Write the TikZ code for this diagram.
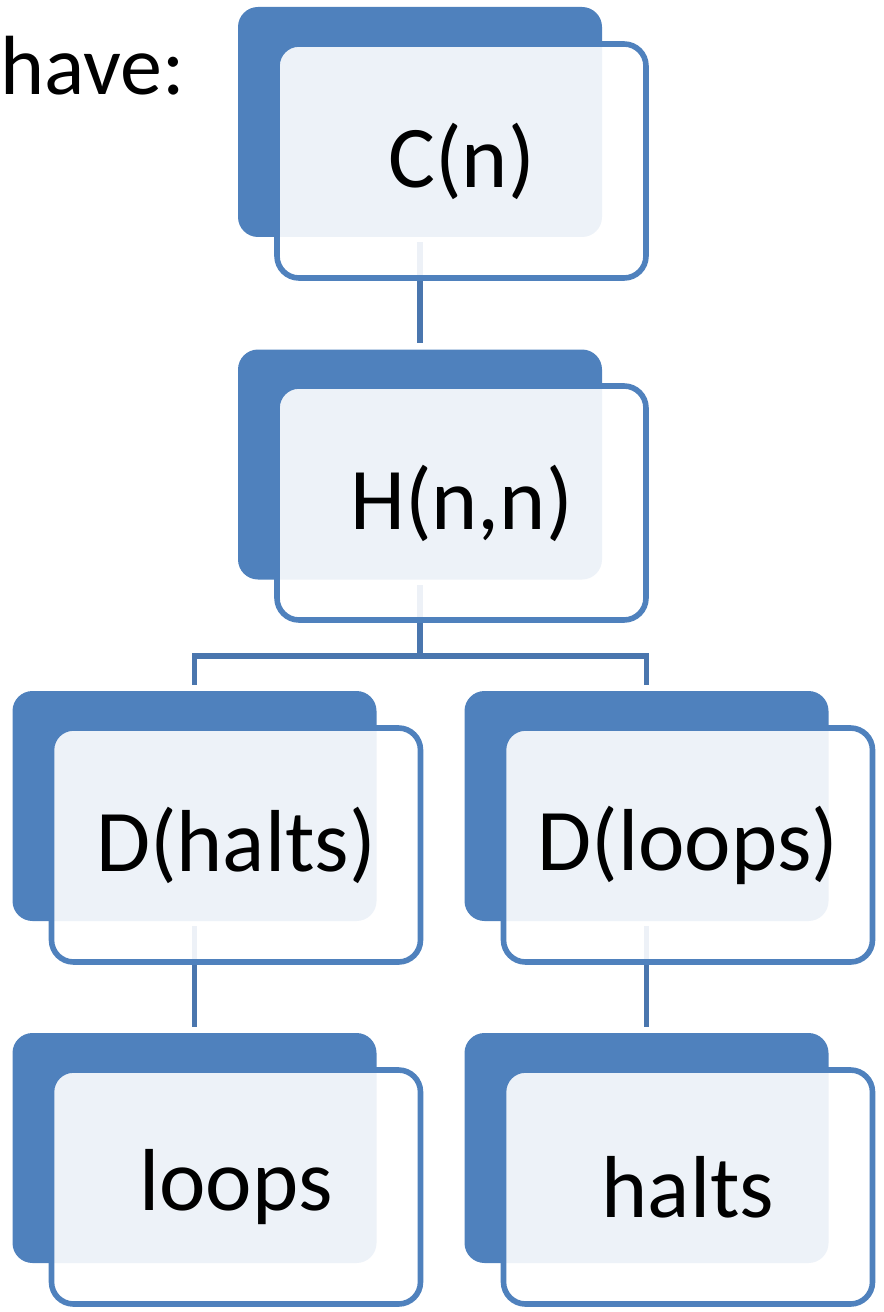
\documentclass[tikz,border=0pt]{standalone}
\usepackage{fontspec}
\setmainfont{Carlito}
\definecolor{boxblue}{HTML}{4F81BD}
\definecolor{linkblue}{HTML}{4A76AE}

\begin{document}
\begin{tikzpicture}[x=0.75pt, y=-0.75pt,
  back/.style={fill=boxblue, rounded corners=15pt, minimum width=273pt, minimum height=172.5pt, inner sep=0pt},
  front/.style={draw=boxblue, line width=4.2pt, fill=white, fill opacity=0.9, text opacity=1, rounded corners=16.5pt, minimum width=276.75pt, minimum height=175.5pt, inner sep=0pt, font=\fontsize{66}{66}\selectfont},
  link/.style={draw=linkblue, line width=4.2pt, shorten <=3.75pt, shorten >=4.5pt}]
\useasboundingbox (0, 0) rectangle (883, 1312);
% back boxes
\node[back] (cb) at (420, 122) {};
\node[back] (hb) at (420, 464.5) {};
\node[back] (dhb) at (194.5, 806) {};
\node[back] (dlb) at (646.5, 806) {};
\node[back] (lb) at (194.5, 1148) {};
\node[back] (tb) at (646.5, 1148) {};
% links
\draw[link] (cb.south) -- (hb.north);
\draw[link, shorten >=0pt] (hb.south) -- ++(0, 76) coordinate (fork);
\draw[link, shorten <=0pt] (fork) -| (dhb.north);
\draw[link, shorten <=0pt] (fork) -| (dlb.north);
\draw[link] (dhb.south) -- (lb.north);
\draw[link] (dlb.south) -- (tb.north);
% front boxes
\node[front] (c) at (461.5, 161) {C(n)};
\node[front] (h) at (461.5, 503) {H(n,n)};
\node[front] (dh) at (236, 845) {D(halts)};
\node[front] (dl) at (688, 845) {D(loops)};
\node[front] (l) at (236, 1187) {loops};
\node[front] (t) at (688, 1187) {halts};
%Text
\node[anchor=base west, font=\fontsize{63}{63}\selectfont, inner sep=0pt] (have) at (0, 95) {have:};
\end{tikzpicture}
\end{document}
